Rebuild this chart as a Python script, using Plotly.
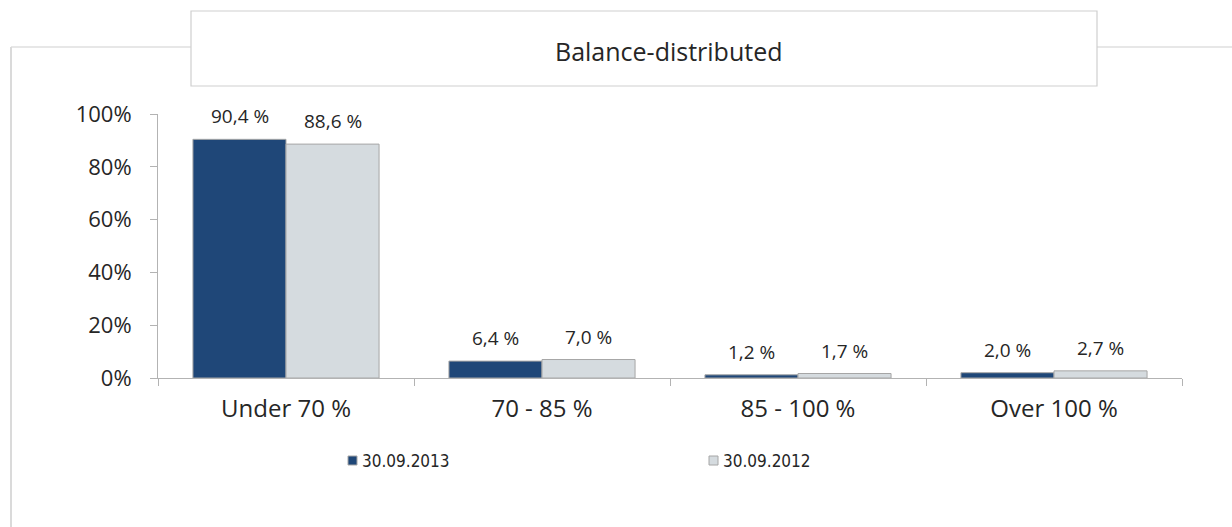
import plotly.graph_objects as go

categories = ["Under 70 %", "70 - 85 %", "85 - 100 %", "Over 100 %"]
series_names = ["30.09.2013", "30.09.2012"]
values_2013 = [90.4, 6.4, 1.2, 2.0]
values_2012 = [88.6, 7.0, 1.7, 2.7]
labels_2013 = ["90,4 %", "6,4 %", "1,2 %", "2,0 %"]
labels_2012 = ["88,6 %", "7,0 %", "1,7 %", "2,7 %"]
y_tick_values = [0, 20, 40, 60, 80, 100]
y_tick_labels = ["0%", "20%", "40%", "60%", "80%", "100%"]
title_text = "Balance-distributed"

W, H = 1232, 527
L, R, T, B = 158, 50, 114, 149
PW, PH = W - L - R, H - T - B


def px(x):
    return (x - L) / PW


def py(y):
    return (H - B - y) / PH


dark = "#1F4778"
light = "#D5DBDF"
edge = "#A6A6A6"
txt = "#262626"
colors = [dark, light]

fig = go.Figure()
fig.add_trace(go.Bar(x=categories, y=values_2013, name=series_names[0], showlegend=False,
                     marker=dict(color=dark, line=dict(color=edge, width=1))))
fig.add_trace(go.Bar(x=categories, y=values_2012, name=series_names[1], showlegend=False,
                     marker=dict(color=light, line=dict(color=edge, width=1))))

annotations = []
for i, cat in enumerate(categories):
    for k, (vals, labs) in enumerate([(values_2013, labels_2013), (values_2012, labels_2012)]):
        annotations.append(dict(
            x=i, y=vals[i], xref="x", yref="y", text=labs[i], showarrow=False,
            xshift=(-46.5 if k == 0 else 46.5), yshift=23, yanchor="middle",
            font=dict(family="Open Sans", size=19, color=txt)))

annotations.append(dict(x=px(668), y=py(51), xref="paper", yref="paper", text=title_text,
                        showarrow=False, xanchor="center", yanchor="middle",
                        font=dict(family="Open Sans", size=25, color=txt)))

frame = "#CFCFCF"
shapes = [
    dict(type="line", xref="paper", yref="paper", x0=px(11), x1=px(191), y0=py(47), y1=py(47),
         line=dict(color=frame, width=1.2)),
    dict(type="line", xref="paper", yref="paper", x0=px(1097), x1=px(1232), y0=py(47), y1=py(47),
         line=dict(color=frame, width=1.2)),
    dict(type="line", xref="paper", yref="paper", x0=px(11), x1=px(11), y0=py(47), y1=py(528),
         line=dict(color="#DADADA", width=2)),
    dict(type="rect", xref="paper", yref="paper", x0=px(191), x1=px(1097), y0=py(11), y1=py(86),
         line=dict(color=frame, width=1.2), fillcolor="rgba(0,0,0,0)"),
]

# custom legend (square marker right next to the label, like the reference)
legend_x = [348, 709]
for k, name in enumerate(series_names):
    x0 = legend_x[k]
    shapes.append(dict(type="rect", xref="paper", yref="paper",
                       x0=px(x0), x1=px(x0 + 9), y0=py(456), y1=py(465),
                       line=dict(color=edge, width=1), fillcolor=colors[k]))
    annotations.append(dict(x=px(x0 + 12), y=py(460.5), xref="paper", yref="paper", text=name,
                            showarrow=False, xanchor="left", yanchor="middle",
                            font=dict(family="DejaVu Sans Condensed", size=17, color=txt)))

fig.update_layout(
    width=W, height=H,
    margin=dict(l=L, r=R, t=T, b=B, autoexpand=False),
    paper_bgcolor="white", plot_bgcolor="white",
    barmode="group", bargap=0.273, bargroupgap=0,
    showlegend=False,
    annotations=annotations,
    shapes=shapes,
    xaxis=dict(type="category", showline=True, linecolor="#B3B3B3", linewidth=1,
               ticks="outside", tickson="boundaries", ticklen=7, tickcolor="#B3B3B3",
               tickfont=dict(family="Open Sans", size=24, color=txt),
               ticklabelstandoff=9, showgrid=False, zeroline=False,
               range=[-0.5, 3.5]),
    yaxis=dict(range=[0, 100], tickmode="array", tickvals=y_tick_values, ticktext=y_tick_labels,
               showline=True, linecolor="#B3B3B3", linewidth=1,
               ticks="outside", ticklen=7, tickcolor="#B3B3B3",
               tickfont=dict(family="Open Sans", size=22, color=txt),
               ticklabelstandoff=14, showgrid=False, zeroline=False),
)

fig.write_html("out.html", config={"displayModeBar": False},
               post_script="document.body.style.margin='0px';")
